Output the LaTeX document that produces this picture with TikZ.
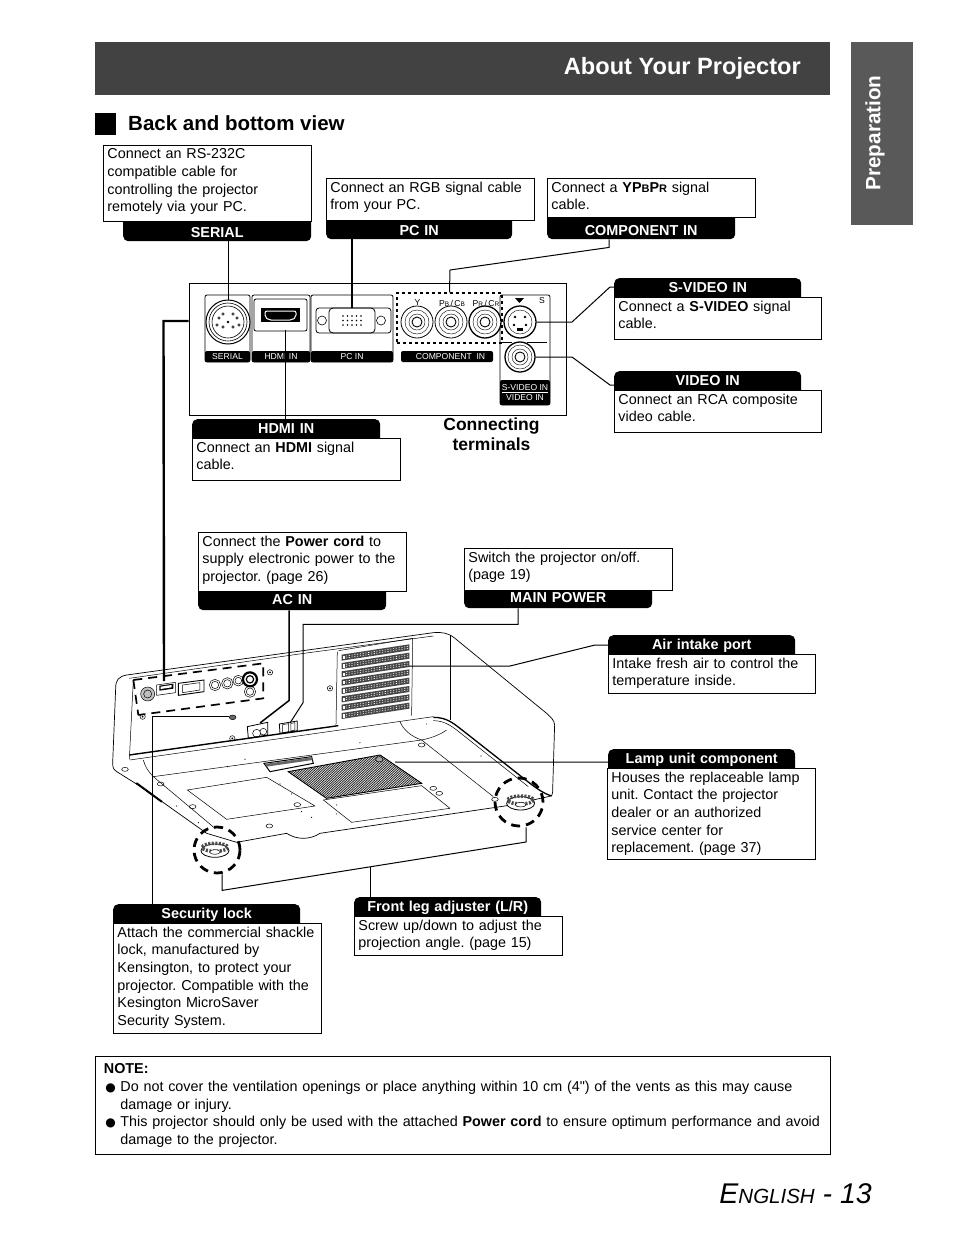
\documentclass[tikz,border=0pt]{standalone}
\usepackage{fontspec}
\setmainfont{Liberation Sans}[Ligatures=TeXOff]
\newfontfamily\symbfont{DejaVu Sans}
\usetikzlibrary{positioning, calc}

\begin{document}
\frenchspacing
\begin{tikzpicture}[
  x=1pt, y=-1pt,
  bodyfont/.style={font=\fontsize{14.35}{17.6}\selectfont},
  tagfont/.style={font=\fontsize{14.4}{17}\selectfont\bfseries},
  infobox/.style={
    draw, fill=white, line width=.9pt, anchor=north west, align=left,
    inner xsep=4pt, inner ysep=3.5pt, bodyfont,
    execute at end node={\endgraf\vspace{#1pt}}
  },
  tagbar/.style={
    fill=black, text=white, rounded corners=5pt, anchor=north west,
    align=center, inner xsep=0pt, inner ysep=0pt, tagfont
  },
  tagup/.style={tagbar, text height=14pt, text depth=12pt},
  tagdown/.style={tagbar, text height=22pt, text depth=4pt},
  wire/.style={line width=1pt},
  heavywire/.style={line width=1.5pt},
  portlab/.style={
    fill=black, text=white, rounded corners=2pt, inner sep=0pt,
    font=\fontsize{8.6}{9}\selectfont
  },
  porthead/.style={inner sep=0pt, font=\fontsize{8.6}{9}\selectfont},
  jack/.style={draw, circle, inner sep=0pt, line width=.8pt, fill=white},
  footring/.style={draw, circle, inner sep=0pt, line width=2.8pt,
                   dash pattern=on 9pt off 6pt}
]
\useasboundingbox (0,0) rectangle (954,1235);
\fill[white] (0,0) rectangle (954,1235);

%--- Header and side tab ---
\node[fill=black!74, minimum width=735pt, minimum height=53pt, inner sep=0pt,
      anchor=north west] (header) at (95,42) {};
\node[anchor=base east, text=white, inner sep=0pt,
      font=\fontsize{23.6}{26}\selectfont\bfseries] (title) at (801,74) {About Your Projector};
\node[fill=black!65, minimum width=62pt, minimum height=183pt, inner sep=0pt,
      anchor=north west] (sidetab) at (851,42) {};
\node[rotate=90, text=white, inner sep=0pt,
      font=\fontsize{20.7}{24}\selectfont\bfseries] (sidetext) at (875,133) {Preparation};
\node[fill=black, minimum width=21pt, minimum height=22pt, inner sep=0pt,
      anchor=north west] (secmark) at (95,113) {};
\node[anchor=base west, inner sep=0pt,
      font=\fontsize{20.5}{24}\selectfont\bfseries] (section) at (128,130) {Back and bottom view};

%--- Projector, traced ---
\begin{scope}[shift={(100pt,-620pt)}, x=.3333pt, y=-.3333pt, line width=.5pt]
  % outline
  \draw[line width=.7pt] (80,165) .. controls (55,170) and (47,180) .. (47,205) -- (38,430)
    .. controls (38,445) and (42,450) .. (52,456) -- (130,505) -- (320,640)
    -- (410,667) -- (560,640) .. controls (590,660) and (630,660) .. (660,640)
    -- (1215,558) -- (1345,530) .. controls (1358,528) and (1358,522) .. (1358,515)
    -- (1364,315) .. controls (1364,300) and (1350,290) .. (1340,280)
    -- (1065,55) .. controls (1045,38) and (1025,36) .. (1000,38) -- cycle;
  % rear face
  \draw (88,175) -- (612,100) -- (1000,48);
  \draw (100,180) -- (88,418);
  \draw[line width=1.4pt] (88,405) -- (715,317);
  \draw (90,420) -- (1000,290);
  \draw (712,95) -- (708,315);
  \draw (1050,45) -- (1050,300);
  % vent panel
  \draw (716,92) -- (938,55) -- (935,287);
  \foreach \k in {0,...,7} {
    \fill[black!72] (725,{104+\k*25}) -- (928,{73+\k*25}) -- (928,{91+\k*25}) -- (725,{122+\k*25}) -- cycle;
    \fill[white] (728,{108+\k*25}) rectangle (735,{118+\k*25});
    \draw[white, line width=.6pt, dash pattern=on 1.2pt off 1.6pt] (738,{108+\k*25}) -- (925,{79+\k*25});
    \draw[white, line width=.6pt, dash pattern=on 1.2pt off 1.6pt] (738,{114+\k*25}) -- (925,{85+\k*25});
  }
  % dashed frame and small rear ports
  \draw[line width=1.7pt, dash pattern=on 9pt off 6pt] (100,180) -- (490,130) -- (490,235) -- (115,285);
  \draw[line width=1.7pt, dash pattern=on 9pt off 6pt] (100,180) -- (115,285);
  \draw[fill=black!25] (143,222) circle (21);
  \draw (143,222) circle (12);
  \draw (170,195) -- (226,187) -- (226,218) -- (170,226) -- cycle;
  \fill[black] (178,197) -- (220,191) -- (220,206) -- (178,212) -- cycle;
  \fill[white] (182,200) -- (215,195) -- (215,202) -- (182,207) -- cycle;
  \draw[line width=.9pt] (235,190) -- (312,180) -- (312,215) -- (235,226) -- cycle;
  \draw (248,195) -- (300,188) -- (300,210) -- (248,218) -- cycle;
  \foreach \cx/\cy/\r in {345/195/17, 382/190/17, 415/182/16, 450/215/17} {
    \draw (\cx,\cy) circle (\r);
    \draw (\cx,\cy) circle (\r-6);
  }
  \draw[line width=2.2pt] (450,178) circle (21);
  \draw[line width=1.2pt] (450,178) circle (11);
  \foreach \cx/\cy in {510/157, 690/205, 128/290, 397/355} {
    \draw (\cx,\cy) circle (8);
    \fill (\cx,\cy) circle (3);
  }
  % lock and power inlets
  \draw[fill=black!60] (398,292) ellipse (10 and 7);
  \draw[line width=.8pt] (442,320) -- (503,307) -- (503,345) -- (445,355) -- cycle;
  \draw (470,340) circle (12) (490,335) circle (10);
  \draw[line width=.8pt] (538,312) -- (592,303) -- (592,332) -- (540,340) -- cycle;
  \draw (548,314) -- (566,311) -- (566,335) -- (548,338) -- cycle;
  \draw (573,310) -- (585,308) -- (585,330) -- (573,333) -- cycle;
  % bottom plate
  \draw[line width=1.3pt] (1000,292) .. controls (1040,292) and (1060,310) .. (1080,325)
     -- (1290,490) .. controls (1310,505) and (1330,520) .. (1355,528);
  \draw (1000,302) .. controls (1030,302) and (1050,315) .. (1070,330) -- (1285,500);
  \draw (160,470) -- (965,360) -- (1180,530);
  \draw (160,470) -- (345,625);
  \draw (130,420) .. controls (135,440) and (145,455) .. (160,470);
  \draw (900,305) .. controls (910,330) and (935,350) .. (965,360) .. controls (990,355) and (1020,345) .. (1040,330);
  \draw (262,510) -- (500,472) -- (645,558) -- (380,598) -- cycle;
  \draw (670,540) -- (965,497) -- (1050,565);
  \draw (670,540) -- (755,607);
  \draw (755,607) -- (1050,565);
  \draw[line width=2pt, line cap=round] (110,490) -- (185,545);
  % lamp cover
  \foreach \t in {0,...,46} {
    \draw[line width=.55pt] ({565+275*\t/46},{455-50*\t/46}) -- ({680+285*\t/46},{535-45*\t/46});
  }
  \draw[line width=.9pt] (565,455) -- (840,405) -- (965,490) -- (680,535) -- cycle;
  \draw[fill=black!35] (838,418) ellipse (11 and 8);
  % lamp handle
  \draw[fill=white, line width=1pt] (492,430) -- (635,410) -- (640,430) -- (510,455) -- cycle;
  \fill[black!60] (495,432) -- (635,412) -- (638,420) -- (500,440) -- cycle;
  % screw holes
  \foreach \cx/\cy in {965/375, 182/492, 278/560, 592/554, 508/618, 1000/505, 1185/538, 1018/520, 75/448} {
    \draw (\cx,\cy) ellipse (10 and 6);
  }
  \foreach \cx/\cy in {435/418, 382/440, 780/368, 1143/408, 540/492, 575/522, 605/575, 635/592, 710/555, 710/582, 295/608, 230/558, 980/312} {
    \fill (\cx,\cy) circle (1.8);
  }
  % feet
  \foreach \cx/\cy in {345/682, 1262/540} {
    \draw[fill=white, line width=.8pt] (\cx,\cy+10) ellipse (42 and 20);
    \draw[line width=3.5pt, black!70, dash pattern=on 2pt off 1.5pt] (\cx,\cy) ellipse (38 and 12);
    \draw[fill=white] (\cx,\cy+14) ellipse (16 and 7);
  }
\end{scope}
\node[footring, minimum size=46pt] (leftfoot)  at (217,850) {};
\node[footring, minimum size=48pt] (rightfoot) at (519,802) {};

%--- Terminal panel ---
\node[draw, line width=1pt, minimum width=377pt, minimum height=132pt, inner sep=0pt] (panel) at (377.5,349) {};
\draw[line width=.8pt, rounded corners=2pt] (205,295) rectangle (250,362);
\draw[line width=.8pt, rounded corners=2pt] (252,295) rectangle (310,362);
\draw[line width=.8pt, rounded corners=2pt] (254,299) rectangle (307,331);
\draw[line width=.8pt, rounded corners=2pt] (311,295) rectangle (393,362);
\draw[line width=.8pt, rounded corners=2pt] (500,295) rectangle (550,405);

\node[portlab, minimum width=45pt, minimum height=11pt] (seriallab) at (227.5,356.5) {SERIAL};
\node[portlab, minimum width=58pt, minimum height=11pt] (hdmilab)   at (281,356.5)   {HDMI IN};
\node[portlab, minimum width=82pt, minimum height=11pt] (pclab)     at (352,356.5)   {PC IN};
\node[portlab, minimum width=92pt, minimum height=11pt] (complab)   at (447,356.5)   {\hspace*{7pt}COMPONENT\ \ IN};
\node[portlab, minimum width=50pt, minimum height=25pt, align=center] (avlab) at (525,392.5) {S-VIDEO IN\\[1pt]VIDEO IN};
\draw[white, line width=.7pt] (502,392.3) -- (548,392.3);

\node[porthead] (yhead)  at (417.5,303) {Y};
\node[porthead] (pbhead) at (452,303)   {P{\fontsize{6.5}{7}\selectfont B}\,/\,C{\fontsize{6.5}{7}\selectfont B}};
\node[porthead] (prhead) at (486,303)   {P{\fontsize{6.5}{7}\selectfont R}\,/\,C{\fontsize{6.5}{7}\selectfont R}};
\node[porthead] (shead)  at (542,301)   {S};
\fill (515,298) -- (524,298) -- (519.5,303) -- cycle;
\draw[line width=1pt] (500,342) -- (512,342) (527,342) -- (547,342);

\node[jack, minimum size=44pt, line width=1pt] (serialjack) at (228,322) {};
\node[jack, minimum size=32pt] (yjack)   at (417,322) {};
\node[jack, minimum size=32pt] (pbjack)  at (451,322) {};
\node[jack, minimum size=32pt, line width=1.3pt] (prjack)  at (485,322) {};
\node[jack, minimum size=32pt, line width=1.3pt] (svjack)  at (520,322) {};
\node[jack, minimum size=30pt, line width=1.3pt] (vidjack) at (520,357) {};
\foreach \n in {yjack, pbjack, prjack, vidjack} {
  \draw (\n) circle (12);
  \draw (\n) circle (8);
}
\draw[line width=.6pt] (serialjack) circle (19);
\draw[line width=.6pt] (serialjack) circle (16);
\draw (svjack) circle (12);
\fill (serialjack) circle (1.3);
\foreach \px/\py in {-9/-4, 9/-4, -5/-8, 5/-8, -5/5, 5/5, -11/3, 11/3} {
  \draw[line width=.5pt] ($(serialjack)+(\px,\py)$) circle (1.2);
}
\foreach \n in {yjack, pbjack, prjack, vidjack} {
  \draw[line width=.9pt] (\n) circle (5);
}
\foreach \px/\py in {-5/-5, 5/-5, -6/3, 6/3} {
  \fill ($(svjack)+(\px,\py)$) circle (1.4);
}
\fill ($(svjack)+(-3,6)$) rectangle ($(svjack)+(3,9)$);

% HDMI socket
\node[fill=black, minimum width=39pt, minimum height=14pt, inner sep=0pt] (hdmisock) at (280.5,315) {};
\draw[white, line width=1pt, rounded corners=2pt] (265,311) -- (296,311) -- (296,317) -- (292,320) -- (269,320) -- (265,317) -- cycle;
\fill[black] (271,314.5) rectangle (291,316.5);
\coordinate (hdmiport) at (285,330);

% VGA socket
\draw[line width=.8pt, rounded corners=3pt] (316,308) -- (391,308) -- (391,333) -- (316,333) -- cycle;
\node[draw, line width=.8pt, rounded corners=4pt, minimum width=46pt, minimum height=25pt, inner sep=0pt] (vgajack) at (352,320.5) {};
\draw[line width=.6pt] (322,320.5) circle (4.5) (381,320.5) circle (4.5);
\foreach \k in {0,...,4} {
  \fill ({343+\k*4.5},316) circle (.9);
  \fill ({343+\k*4.5},320.5) circle (.9);
  \fill ({343+\k*4.5},325) circle (.9);
}
\node[draw, dashed, line width=1.3pt, minimum width=105pt, minimum height=50pt, inner sep=0pt] (compframe) at (449.5,318) {};

%--- Black tags, under the boxes ---
\node[tagdown, text width=188pt] (serial) at (123,215) {SERIAL};
\node[tagdown, text width=186pt] (pcin)   at (326,213) {PC IN};
\node[tagdown, text width=188pt] (comp)   at (547,213) {COMPONENT IN};
\node[tagup,   text width=187pt] (svideo) at (614,278) {S-VIDEO IN};
\node[tagup,   text width=187pt] (video)  at (614,371) {VIDEO IN};
\node[tagup,   text width=188pt] (hdmi)   at (192,419) {HDMI IN};
\node[tagdown, text width=188pt, text height=20pt, text depth=6pt] (acin)  at (198,584) {AC IN};
\node[tagdown, text width=188pt, text height=20pt, text depth=6pt] (power) at (464,582) {MAIN POWER};
\node[tagup,   text width=187pt] (air)    at (608,635) {Air intake port};
\node[tagup,   text width=187pt] (lamp)   at (608,749) {Lamp unit component};
\node[tagup,   text width=187pt] (lock)   at (113,904) {Security lock};
\node[tagup,   text width=187pt] (leg)    at (354,897) {Front leg adjuster (L/R)};

%--- Text boxes ---
\node[infobox=3.5, text width=200pt] (serialbox) at (103,145) {Connect an RS-232C\\compatible cable for\\controlling the projector\\remotely via your PC.};
\node[infobox=4, text width=200pt] (pcbox)   at (326,178) {Connect an RGB signal cable\\from your PC.};
\node[infobox=4, text width=200pt] (compbox) at (547,178) {Connect a \textbf{YP{\fontsize{11}{12}\selectfont B}P{\fontsize{11}{12}\selectfont R}} signal\\cable.};
\node[infobox=7, text width=199pt] (svbox)   at (614,297) {Connect a \textbf{S-VIDEO} signal\\cable.};
\node[infobox=7, text width=199pt] (vidbox)  at (614,390) {Connect an RCA composite\\video cable.};
\node[infobox=7, text width=200pt] (hdmibox) at (192,438) {Connect an \textbf{HDMI} signal\\cable.};
\node[infobox=3, text width=200pt] (acbox)   at (198,532) {Connect the \textbf{Power cord} to\\supply electronic power to the\\projector. (page 26)};
\node[infobox=4, text width=200pt] (powerbox) at (464,548) {Switch the projector on/off.\\(page 19)};
\node[infobox=1, text width=199pt] (airbox)  at (608,654) {Intake fresh air to control the\\temperature inside.};
\node[infobox=0, text width=200pt] (lampbox) at (607,768) {Houses the replaceable lamp\\unit. Contact the projector\\dealer or an authorized\\service center for\\replacement. (page 37)};
\node[infobox=1.6, text width=200pt] (lockbox) at (113,923) {Attach the commercial shackle\\lock, manufactured by\\Kensington, to protect your\\projector. Compatible with the\\Kesington MicroSaver\\Security System.};
\node[infobox=1, text width=200pt] (legbox)  at (354,916) {Screw up/down to adjust the\\projection angle. (page 15)};

\node[align=center, inner sep=0pt, font=\fontsize{17.5}{20}\selectfont\bfseries] (terminals) at (491.5,434) {Connecting\\terminals};

%--- Note ---
\node[infobox=0, text width=727pt, inner xsep=4pt, inner ysep=7.5pt] (note) at (95,1056)
  {\hspace*{4.5pt}\textbf{NOTE:}\\
   \hspace*{21pt}\llap{{\symbfont\fontsize{12}{12}\selectfont ●}\hspace{4.5pt}}Do not cover the ventilation openings or place anything within 10 cm (4") of the vents as this may cause\\
   \hspace*{21pt}damage or injury.\\
   \hspace*{21pt}\llap{{\symbfont\fontsize{12}{12}\selectfont ●}\hspace{4.5pt}}This projector should only be used with the attached \textbf{Power cord} to ensure optimum performance and avoid\\
   \hspace*{21pt}damage to the projector.};

%--- Page number ---
\node[anchor=base east, inner sep=0pt, font=\fontsize{28.5}{32}\selectfont\itshape] (pageno) at (872,1203)
  {E{\fontsize{20.5}{24}\selectfont NGLISH} - 13};

%--- Connectors, top row ---
\coordinate (hdmiend) at (hdmiport);
\draw[wire] (serial.south -| serialjack) -- (serialjack.north);
\draw[heavywire] (pcin.south -| vgajack) -- (vgajack.north);
\draw[wire] ([xshift=-32pt]comp.south) -- ++(0,8) -- (450,270) -- (compframe.north);
\draw[wire] (svjack.east) -- (572,322) -- (610,287) -- ([yshift=-9pt]svideo.north west);
\draw[wire] (vidjack.east) -- (572,357) -- (610,385) -- ([yshift=-14pt]video.north west);
\draw[wire] (hdmi.north -| hdmiend) -- (hdmiend);

%--- Connectors, projector ---
\coordinate (backports) at (164,681);
\coordinate (acsocket)  at (260,723);
\coordinate (rocker)    at (290,723);
\coordinate (vents)     at (409,666);
\coordinate (lampcover) at (395,762);
\coordinate (lockhole)  at (229,716);
\draw[line width=2.4pt] ([yshift=28pt]panel.west) -- ++(-25,0) -- (backports);
\draw[heavywire] ([xshift=-3pt]acin.south) -- ++(0,90) -- (acsocket);
\draw[wire] ([xshift=-40pt]power.south) -- ++(0,16) -- ++(-215,0) -- ++(0,78) -- (rocker);
\draw[wire] (vents) -- (510,666) -- (595,645) -- ([yshift=3pt]air.west);
\draw[wire] (lampcover) -- (lamp.west);
\draw[wire] ([xshift=-54.5pt]lock.north) |- (lockhole);
\draw[wire] ([xshift=5pt]leftfoot.south) -- ++(0,16) -- (526,842) -- ([xshift=7pt]rightfoot.south);
\draw[wire] ([xshift=-77.5pt]leg.north) -- ++(0,-30);

\end{tikzpicture}
\end{document}
